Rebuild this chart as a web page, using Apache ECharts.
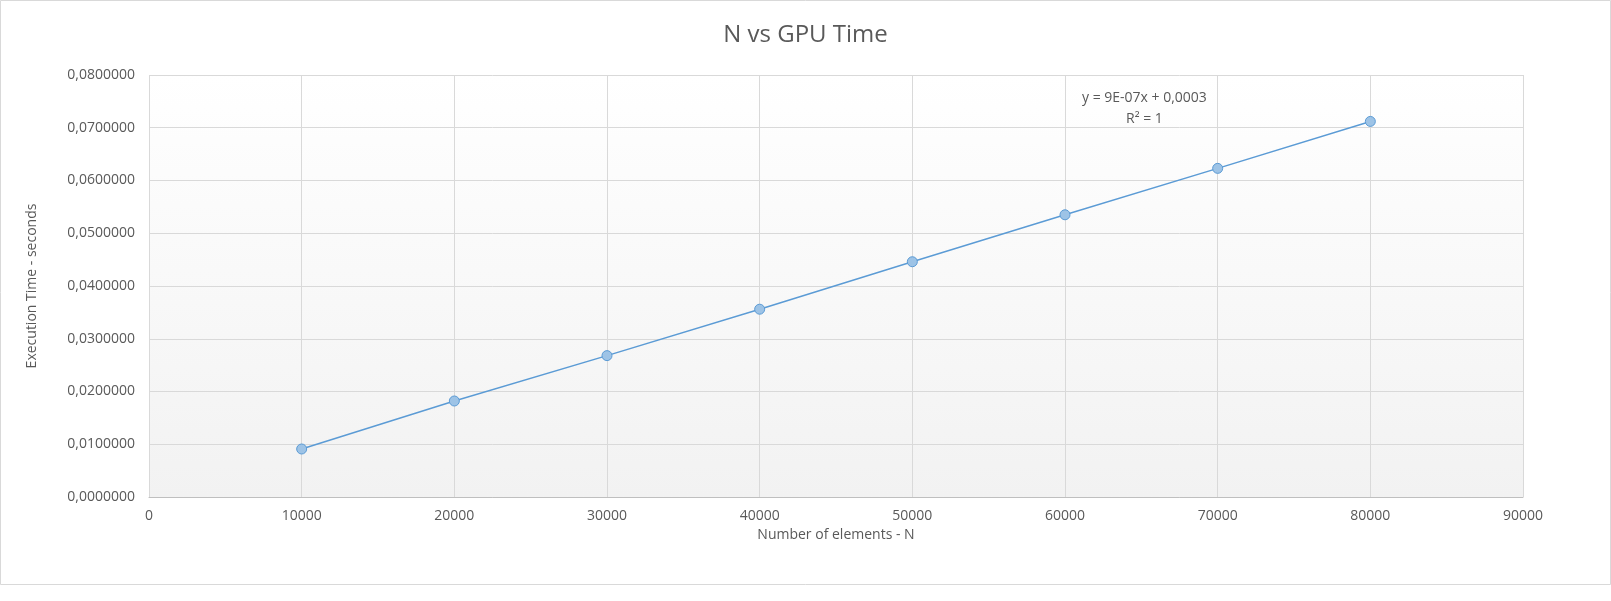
<!DOCTYPE html>
<html><head><meta charset="utf-8">
<script src="https://cdn.jsdelivr.net/npm/echarts@6/dist/echarts.min.js"></script>
<style>html,body{margin:0;padding:0;background:#fff}#c{width:1611px;height:601px}</style>
</head><body><div id="c"></div>
<script>
const nValues = [10000, 20000, 30000, 40000, 50000, 60000, 70000, 80000];
const gpuTimes = [0.0091, 0.0182, 0.0268, 0.0356, 0.0446, 0.0535, 0.0623, 0.0712];
const trendText = 'y = 9E-07x + 0,0003\nR² = 1';
const chart = echarts.init(document.getElementById('c'));
const font = 'Open Sans';
chart.setOption({
  backgroundColor: '#fff',
  textStyle: {fontFamily: font},
  title: {text: 'N vs GPU Time', left: 'center', top: 18,
    textStyle: {fontSize: 24, fontWeight: 'normal', color: '#595959', fontFamily: font}},
  grid: {left: 149, right: 88, top: 75, bottom: 104},
  xAxis: {type: 'value', min: 0, max: 90000, interval: 10000,
    name: 'Number of elements - N', nameLocation: 'middle', nameGap: 30,
    nameTextStyle: {fontSize: 14, color: '#595959'},
    axisLine: {lineStyle: {color: '#bfbfbf'}}, axisTick: {show: false},
    axisLabel: {fontSize: 14, color: '#595959', margin: 12, formatter: v => String(v)},
    splitLine: {show: true, lineStyle: {color: '#d9d9d9'}}},
  yAxis: {type: 'value', min: 0, max: 0.08, interval: 0.01,
    name: 'Execution Time - seconds', nameLocation: 'middle', nameGap: 110,
    nameTextStyle: {fontSize: 14, color: '#595959'},
    axisLine: {show: false}, axisTick: {show: false},
    axisLabel: {fontSize: 14, color: '#595959', margin: 14,
      formatter: v => v.toFixed(7).replace('.', ',')},
    splitLine: {lineStyle: {color: '#d9d9d9'}}},
  graphic: [
    {type: 'rect', z: -10, shape: {x: 149, y: 75, width: 1374, height: 422},
      style: {fill: new echarts.graphic.LinearGradient(0, 0, 0, 1, [{offset: 0, color: '#ffffff'}, {offset: 1, color: '#f2f2f2'}])}},
    {type: 'rect', shape: {x: 0.5, y: 0.5, width: 1610, height: 584}, style: {fill: null, stroke: '#d9d9d9', lineWidth: 1}},
    {type: 'text', left: 1082, top: 88, style: {text: trendText, fill: '#595959', font: '14px "Open Sans"', lineHeight: 21, textAlign: 'center', x: 73}}
  ],
  series: [{type: 'line', data: nValues.map((n, i) => [n, gpuTimes[i]]),
    symbol: 'circle', symbolSize: 10,
    lineStyle: {color: '#5b9bd5', width: 1.5},
    itemStyle: {color: '#9dc3e6', borderColor: '#5b9bd5', borderWidth: 1}}]
});
</script></body></html>
